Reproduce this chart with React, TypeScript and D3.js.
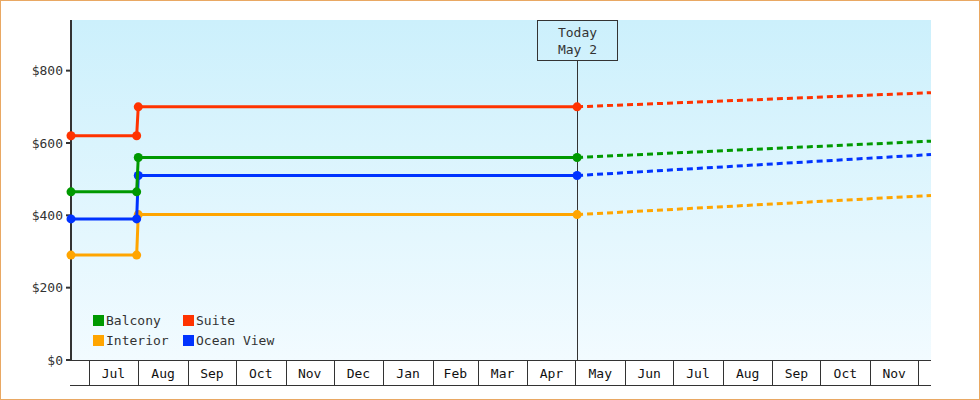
import React from "react";
import * as d3 from "d3";

const W = 980;
const H = 400;
const M = { left: 71, right: 931, top: 20, bottom: 360 };

// series (values in $)
const seriesNames = ["Balcony", "Suite", "Interior", "Ocean View"];
const seriesColors = ["#009900", "#ff3300", "#ffa500", "#0033ff"];
const historyDates = [new Date(2014, 5, 20), new Date(2014, 6, 31), new Date(2014, 7, 1), new Date(2015, 4, 2)];
const balconyHist = [465, 465, 560, 560];
const suiteHist = [620, 620, 700, 700];
const interiorHist = [290, 290, 402, 402];
const oceanHist = [390, 390, 510, 510];
const forecastDates = [new Date(2015, 4, 2), new Date(2015, 11, 9)];
const balconyFc = [560, 605];
const suiteFc = [700, 739];
const interiorFc = [402, 455];
const oceanFc = [510, 568];
const yTicks = [0, 200, 400, 600, 800];
const monthLabels = ["Jul", "Aug", "Sep", "Oct", "Nov", "Dec", "Jan", "Feb", "Mar", "Apr", "May", "Jun", "Jul", "Aug", "Sep", "Oct", "Nov"];
const todayDate = new Date(2015, 4, 2);
const todayLines = ["Today", "May 2"];

const FONT = "'DejaVu Sans Mono', monospace";
const DARK = "#333333";

export default function App() {
  const x = d3.scaleTime().domain([new Date(2014, 5, 20), new Date(2015, 11, 9)]).range([M.left, M.right]);
  const y = d3.scaleLinear().domain([0, 940]).range([M.bottom, M.top]);

  const hist = [balconyHist, suiteHist, interiorHist, oceanHist];
  const fc = [balconyFc, suiteFc, interiorFc, oceanFc];
  const line = d3.line<[Date, number]>().x((d) => x(d[0])).y((d) => y(d[1]));

  const monthStarts = d3.timeMonth.range(new Date(2014, 6, 1), new Date(2015, 11, 2));
  const tx = x(todayDate);
  const drawOrder = [2, 3, 0, 1];

  return (
    <svg width={W} height={H} style={{ position: "absolute", left: 0, top: 0 }} fontFamily={FONT} fontSize={13}>
      <defs>
        <linearGradient id="bg" x1="0" y1="0" x2="0" y2="1">
          <stop offset="0" stopColor="#ccf0fc" />
          <stop offset="1" stopColor="#f2fbff" />
        </linearGradient>
      </defs>
      <rect x={0.5} y={0.5} width={W - 1} height={H - 1} fill="#fff" stroke="#e9a863" strokeWidth={1} />
      <rect x={M.left} y={M.top} width={M.right - M.left} height={M.bottom - M.top} fill="url(#bg)" />

      {/* y axis */}
      <line x1={M.left} x2={M.left} y1={M.top} y2={M.bottom + 1} stroke={DARK} strokeWidth={2} />
      {yTicks.map((t) => (
        <g key={t}>
          <line x1={M.left - 5} x2={M.left} y1={y(t)} y2={y(t)} stroke={DARK} strokeWidth={2} />
          <text x={M.left - 8} y={y(t)} dy="0.35em" textAnchor="end" fill={DARK}>
            {"$" + t}
          </text>
        </g>
      ))}

      {/* x axis cells */}
      <line x1={M.left} x2={M.right} y1={M.bottom + 0.5} y2={M.bottom + 0.5} stroke={DARK} strokeWidth={1} />
      <line x1={M.left - 1} x2={M.right} y1={385.5} y2={385.5} stroke={DARK} strokeWidth={1} />
      {monthStarts.map((d, i) => {
        const xs = Math.round(x(d)) + 0.5;
        const next = monthStarts[i + 1];
        return (
          <g key={i}>
            <line x1={xs} x2={xs} y1={M.bottom} y2={385.5} stroke={DARK} strokeWidth={1} />
            {next && monthLabels[i] ? (
              <text x={(x(d) + x(next)) / 2} y={378} textAnchor="middle" fill="#111">
                {monthLabels[i]}
              </text>
            ) : null}
          </g>
        );
      })}

      {/* today marker */}
      <line x1={Math.round(tx) + 0.5} x2={Math.round(tx) + 0.5} y1={60} y2={M.bottom} stroke={DARK} strokeWidth={1} />
      <rect x={Math.round(tx) - 39.5} y={20.5} width={80} height={40} fill="none" stroke={DARK} strokeWidth={1} />
      {todayLines.map((s, i) => (
        <text key={i} x={Math.round(tx) + 0.5} y={37 + i * 17} textAnchor="middle" fill={DARK}>
          {s}
        </text>
      ))}

      {/* series */}
      {drawOrder.map((si) => {
        const h: [Date, number][] = historyDates.map((d, j) => [d, hist[si][j]]);
        const f: [Date, number][] = forecastDates.map((d, j) => [d, fc[si][j]]);
        return (
          <g key={si}>
            <path d={line(f) || ""} fill="none" stroke={seriesColors[si]} strokeWidth={3} strokeDasharray="6 4" />
            <path d={line(h) || ""} fill="none" stroke={seriesColors[si]} strokeWidth={3} />
            {h.map((p, j) => (
              <circle key={j} cx={x(p[0])} cy={y(p[1])} r={4.5} fill={seriesColors[si]} />
            ))}
          </g>
        );
      })}

      {/* legend */}
      {seriesNames.map((n, i) => {
        const col = i % 2;
        const row = Math.floor(i / 2);
        const lx = 93 + col * 90;
        const ly = 315 + row * 20;
        return (
          <g key={n}>
            <rect x={lx} y={ly} width={11} height={11} fill={seriesColors[i]} />
            <text x={lx + 13} y={ly + 5.5} dy="0.35em" fill={DARK}>
              {n}
            </text>
          </g>
        );
      })}
    </svg>
  );
}
